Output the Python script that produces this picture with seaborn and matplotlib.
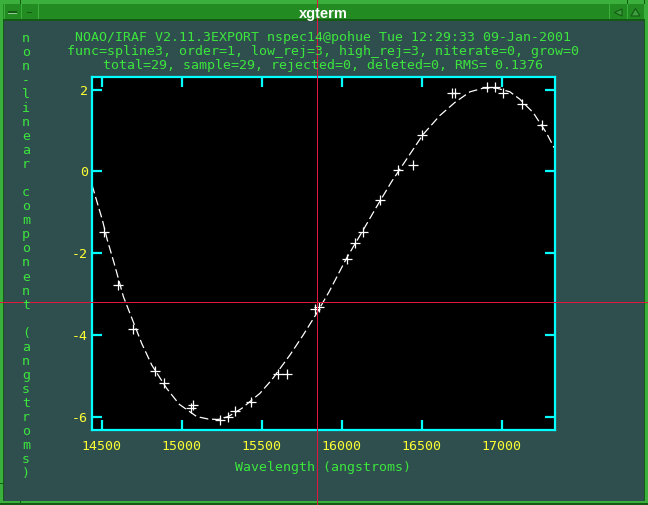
import matplotlib
matplotlib.use("Agg")
import matplotlib.pyplot as plt
from matplotlib.patches import Rectangle, Polygon
import pandas as pd
import seaborn as sns

point_wave = [14516, 14604, 14698, 14835, 14889, 15058, 15073, 15241, 15291, 15335,
              15435, 15602, 15656, 15835, 15858, 16033, 16081, 16131, 16238, 16354,
              16446, 16504, 16691, 16708, 16910, 16960, 17010, 17125, 17252]
point_val = [-1.49, -2.78, -3.86, -4.89, -5.17, -5.78, -5.71, -6.08, -6.00, -5.87,
             -5.65, -4.96, -4.96, -3.36, -3.32, -2.15, -1.76, -1.49, -0.70, 0.03,
             0.16, 0.90, 1.91, 1.91, 2.06, 2.06, 1.92, 1.65, 1.13]
fit_wave = [14439, 14504, 14535, 14577, 14635, 14688, 14750, 14813, 14906, 14985,
            15094, 15166, 15229, 15291, 15375, 15489, 15563, 15677, 15760, 15844,
            15922, 16031, 16135, 16219, 16312, 16416, 16510, 16614, 16708, 16802,
            16885, 16969, 17052, 17114, 17198, 17281, 17329]
fit_val = [-0.33, -1.19, -1.68, -2.24, -3.06, -3.59, -4.21, -4.74, -5.31, -5.70,
           -6.00, -6.06, -6.07, -6.00, -5.80, -5.43, -5.10, -4.49, -4.00, -3.47,
           -2.94, -2.12, -1.43, -0.86, -0.25, 0.36, 0.91, 1.37, 1.69, 1.95,
           2.04, 2.04, 1.95, 1.77, 1.44, 0.94, 0.58]
x_ticks = [14500, 15000, 15500, 16000, 16500, 17000]
y_ticks = [-6, -4, -2, 0, 2]
title_lines = ["NOAO/IRAF V2.11.3EXPORT nspec14@pohue Tue 12:29:33 09-Jan-2001",
               "func=spline3, order=1, low_rej=3, high_rej=3, niterate=0, grow=0",
               "total=29, sample=29, rejected=0, deleted=0, RMS= 0.1376"]
y_label = "non-linear component (angstroms)"
x_label = "Wavelength (angstroms)"
window_title = "xgterm"

W, H = 648, 505
BG, GREEN, YELLOW, CYAN = "#2F4F4F", "#3CE63C", "#FFFF33", "#00FFFF"
BAR, EDGE, DARK, RED = "#228B22", "#3CB03C", "#145A14", "#E01840"
MONO = "DejaVu Sans Mono"

sns.set_theme(style="white")
plt.rcParams["axes.unicode_minus"] = False
plt.rcParams["font.family"] = MONO

fig = plt.figure(figsize=(W / 100, H / 100), dpi=100, facecolor=BG)
ax = fig.add_axes([92 / W, 1 - 430 / H, (555 - 92) / W, (430 - 77) / H], facecolor="black")

sns.lineplot(data=pd.DataFrame({"w": fit_wave, "v": fit_val}), x="w", y="v", ax=ax,
             color="white", linewidth=0.9, linestyle=(0, (7, 3)), estimator=None,
             errorbar=None, sort=False)
sns.scatterplot(data=pd.DataFrame({"w": point_wave, "v": point_val}), x="w", y="v", ax=ax,
                marker="+", s=42, color="white", linewidth=0.9, zorder=3)

ax.set_xlim(14439, 17334)
ax.set_ylim(-6.328, 2.313)
ax.set_xticks(x_ticks)
ax.set_yticks(y_ticks)
ax.set_xlabel("")
ax.set_ylabel("")
ax.tick_params(axis="x", direction="in", length=7.2, width=1.6, color=CYAN, top=True, bottom=True,
               labelcolor=YELLOW, labelsize=9.5, pad=7)
ax.tick_params(axis="y", direction="in", length=7.2, width=1.6, color=CYAN, left=True, right=True,
               labelcolor=YELLOW, labelsize=9.5, pad=3)
for s in ax.spines.values():
    s.set_color(CYAN)
    s.set_linewidth(1.6)
    s.set_visible(True)


def fx(px):
    return px / W


def fy(py):
    return 1 - py / H


for line, py in zip(title_lines, [38, 52, 66]):
    fig.text(fx(323), fy(py), line, color=GREEN, fontsize=9.5, ha="center", va="center")
fig.text(fx(323), fy(468), x_label, color=GREEN, fontsize=9.5, ha="center", va="center")
for i, ch in enumerate(y_label):
    if ch != " ":
        fig.text(fx(26), fy(38 + i * 14.06), ch, color=GREEN, fontsize=9.5, ha="center", va="center")


def rect(x, y, w, h, c):
    fig.add_artist(Rectangle((fx(x), fy(y + h)), w / W, h / H, transform=fig.transFigure,
                             facecolor=c, edgecolor="none", linewidth=0))


# window frame
rect(0, 0, W, 4, EDGE)
rect(0, 4, W, 15, BAR)
rect(0, 19, W, 2, DARK)
rect(0, 0, 3, H, EDGE)
rect(3, 21, 1, H - 25, DARK)
rect(644, 0, 1, H, DARK)
rect(645, 0, 3, H, EDGE)
rect(0, 501, W, 2, EDGE)
rect(0, 503, W, 2, DARK)
for bx in [4, 21, 38, 609, 627, 644]:
    rect(bx, 4, 1, 15, EDGE)
rect(0, 483, 3, 1, DARK)
rect(20, 501, 1, 4, DARK)
rect(20, 0, 1, 4, DARK)
rect(627, 0, 1, 4, DARK)
rect(8, 11, 9, 2, DARK)
rect(8, 13, 9, 1, "#90C890")
rect(27, 12, 5, 1, DARK)
for pts in ([(614.5, 12.5), (622, 9), (622, 16)], [(635.5, 8.5), (631, 16), (640, 16)]):
    fig.add_artist(Polygon([(fx(a), fy(b)) for a, b in pts], closed=True, transform=fig.transFigure,
                           facecolor="#3F9F3F", edgecolor=DARK, linewidth=0.8))
fig.text(fx(323), fy(14), window_title, color="white", fontsize=10.5, fontweight="bold",
         family="Liberation Sans", ha="center", va="center")

# crosshair cursor, one pixel wide
rect(317, 0, 1, H, RED)
rect(0, 302, W, 1, RED)

fig.savefig("out.png", dpi=100, facecolor=BG)
